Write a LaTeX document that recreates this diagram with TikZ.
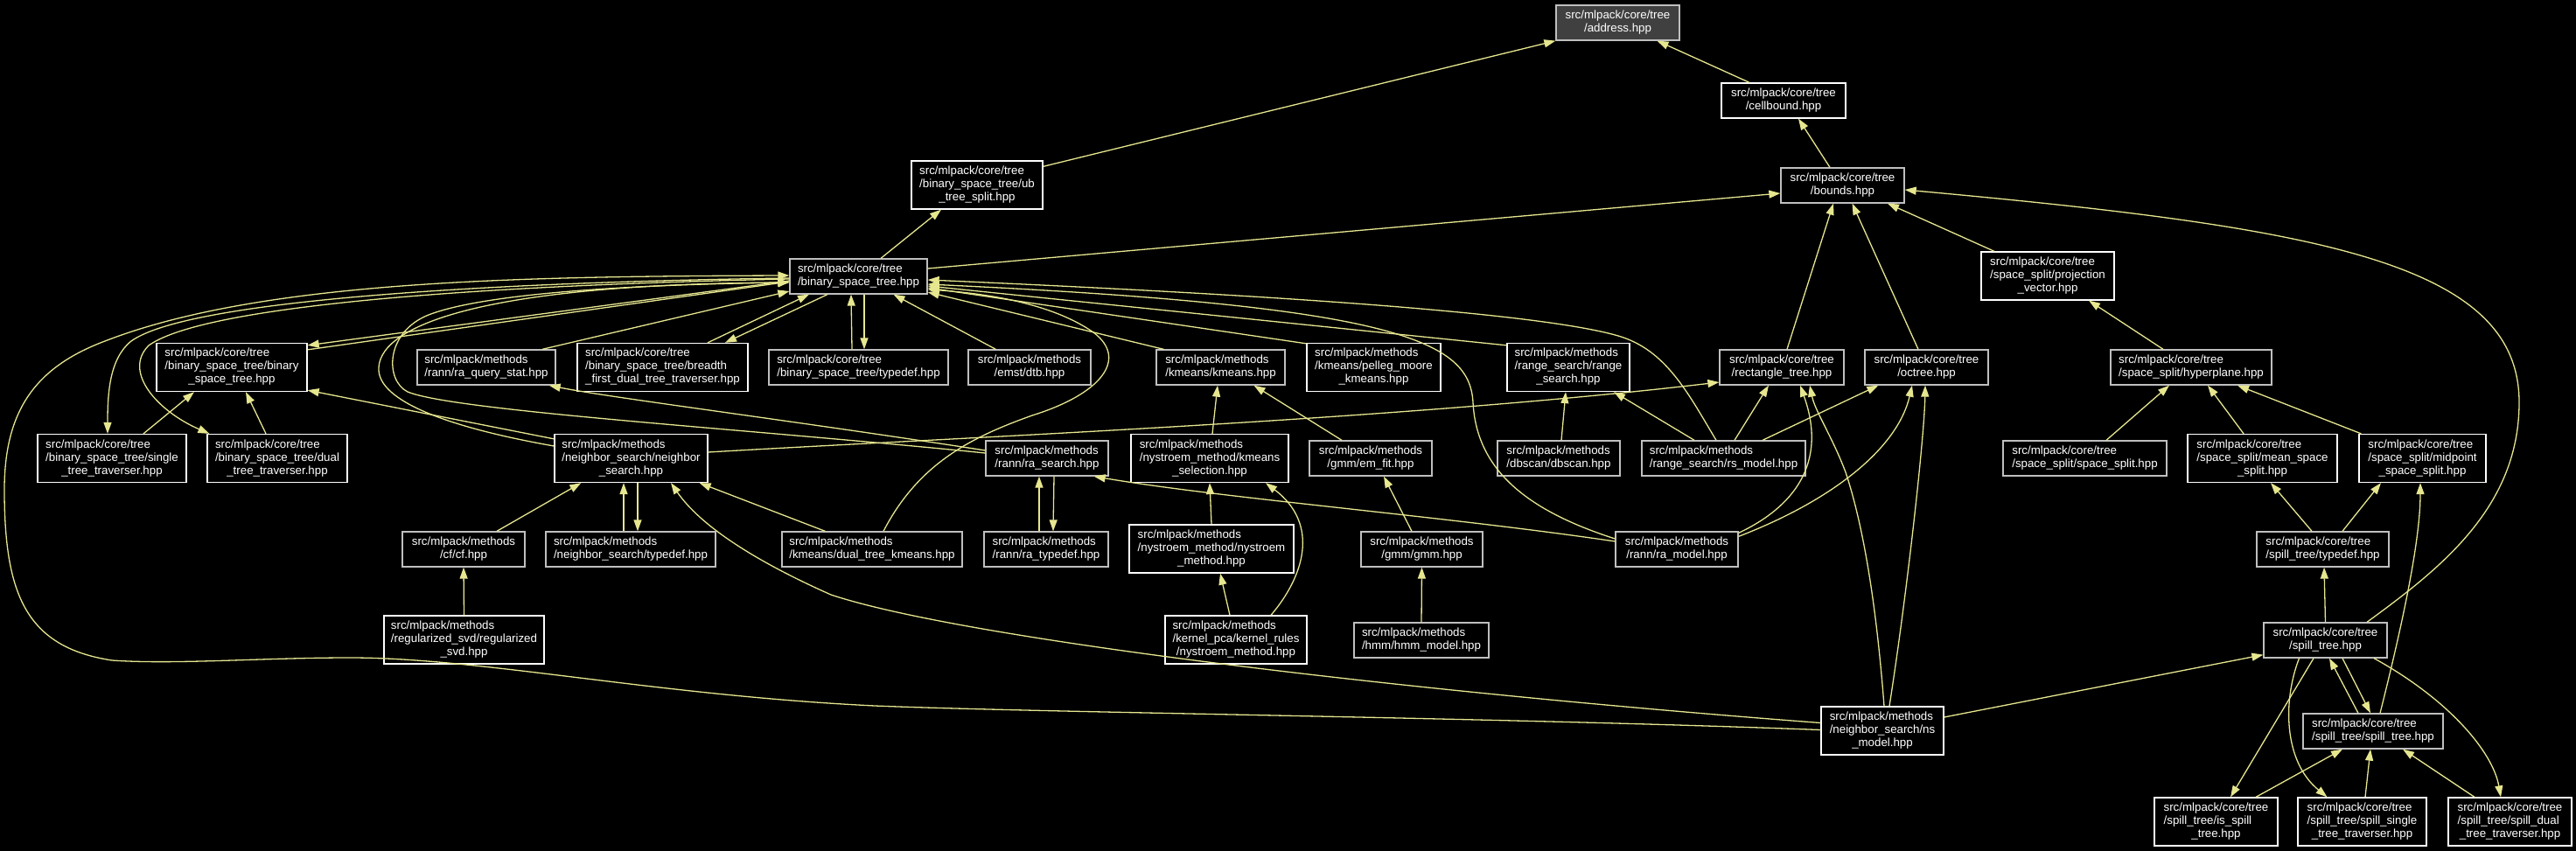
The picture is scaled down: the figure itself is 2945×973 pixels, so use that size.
\documentclass[tikz,border=0pt]{standalone}
\usepackage{fontspec}
\setmainfont{Liberation Sans}
\usetikzlibrary{arrows.meta}
\definecolor{grayb}{RGB}{191,191,191}
\definecolor{edgec}{RGB}{230,230,143}
\definecolor{addrfill}{RGB}{64,64,64}
\newcommand{\ltwo}[2]{\begin{tabular}{@{}l@{}}#1\\\multicolumn{1}{@{}c@{}}{#2}\end{tabular}}
\newcommand{\lthree}[3]{\begin{tabular}{@{}l@{}}#1\\#2\\\multicolumn{1}{@{}c@{}}{#3}\end{tabular}}
\tikzset{
  nd/.style={draw=white, fill=black, text=white, line width=1.3pt, inner sep=0pt,
    font=\fontsize{13.3}{15}\selectfont, minimum height=40pt},
  nd3/.style={nd, minimum height=55pt},
  gr/.style={nd, draw=grayb},
  gr3/.style={nd3, draw=grayb},
  addr/.style={nd, draw=grayb, fill=addrfill},
  arr/.style={draw=edgec, line width=1.3pt, -{Triangle[length=13pt,width=9pt]}}
}
\begin{document}
\begin{tikzpicture}[x=1pt,y=-1pt]
\fill[black] (0,0) rectangle (2945,973);
\useasboundingbox (0,0) rectangle (2945,973);
% nodes
\node[addr, minimum width=141pt] (address) at (1849.5,26) {\ltwo{src/mlpack/core/tree}{/address.hpp}};
\node[nd, minimum width=142pt] (cellbound) at (2039,115) {\ltwo{src/mlpack/core/tree}{/cellbound.hpp}};
\node[nd3, minimum width=150pt] (ub) at (1117,211.5) {\lthree{src/mlpack/core/tree}{/binary\_space\_tree/ub}{\_tree\_split.hpp}};
\node[gr, minimum width=141pt] (bounds) at (2106.5,212) {\ltwo{src/mlpack/core/tree}{/bounds.hpp}};
\node[gr, minimum width=157pt] (bst) at (981.5,316) {\ltwo{src/mlpack/core/tree}{/binary\_space\_tree.hpp}};
\node[nd3, minimum width=152pt] (proj) at (2341,315.5) {\lthree{src/mlpack/core/tree}{/space\_split/projection}{\_vector.hpp}};
\node[nd3, minimum width=172pt] (bstb) at (265,420) {\lthree{src/mlpack/core/tree}{/binary\_space\_tree/binary}{\_space\_tree.hpp}};
\node[gr, minimum width=158pt] (raqs) at (556,420) {\ltwo{src/mlpack/methods}{/rann/ra\_query\_stat.hpp}};
\node[nd3, minimum width=195pt] (breadth) at (757.5,420) {\lthree{src/mlpack/core/tree}{/binary\_space\_tree/breadth}{\_first\_dual\_tree\_traverser.hpp}};
\node[gr, minimum width=205pt] (bsttd) at (981.5,420) {\ltwo{src/mlpack/core/tree}{/binary\_space\_tree/typedef.hpp}};
\node[gr, minimum width=140pt] (dtb) at (1177,420) {\ltwo{src/mlpack/methods}{/emst/dtb.hpp}};
\node[gr, minimum width=147pt] (kmeans) at (1395.5,420) {\ltwo{src/mlpack/methods}{/kmeans/kmeans.hpp}};
\node[nd3, minimum width=153pt] (pelleg) at (1570.5,420) {\lthree{src/mlpack/methods}{/kmeans/pelleg\_moore}{\_kmeans.hpp}};
\node[nd3, minimum width=140pt] (range) at (1793,420) {\lthree{src/mlpack/methods}{/range\_search/range}{\_search.hpp}};
\node[gr, minimum width=142pt] (rect) at (2037,420) {\ltwo{src/mlpack/core/tree}{/rectangle\_tree.hpp}};
\node[gr, minimum width=141pt] (octree) at (2202.5,420) {\ltwo{src/mlpack/core/tree}{/octree.hpp}};
\node[gr, minimum width=184pt] (hyper) at (2505,420) {\ltwo{src/mlpack/core/tree}{/space\_split/hyperplane.hpp}};
\node[nd3, minimum width=170pt] (single) at (128,524) {\lthree{src/mlpack/core/tree}{/binary\_space\_tree/single}{\_tree\_traverser.hpp}};
\node[nd3, minimum width=160pt] (dual) at (317,524) {\lthree{src/mlpack/core/tree}{/binary\_space\_tree/dual}{\_tree\_traverser.hpp}};
\node[nd3, minimum width=175pt] (ns) at (721.5,524) {\lthree{src/mlpack/methods}{/neighbor\_search/neighbor}{\_search.hpp}};
\node[gr, minimum width=140pt] (rasearch) at (1197,524) {\ltwo{src/mlpack/methods}{/rann/ra\_search.hpp}};
\node[nd3, minimum width=180pt] (kmsel) at (1383,524) {\lthree{src/mlpack/methods}{/nystroem\_method/kmeans}{\_selection.hpp}};
\node[gr, minimum width=140pt] (emfit) at (1567,524) {\ltwo{src/mlpack/methods}{/gmm/em\_fit.hpp}};
\node[gr, minimum width=140pt] (dbscan) at (1782,524) {\ltwo{src/mlpack/methods}{/dbscan/dbscan.hpp}};
\node[gr, minimum width=187pt] (rsmodel) at (1970.5,524) {\ltwo{src/mlpack/methods}{/range\_search/rs\_model.hpp}};
\node[gr, minimum width=187pt] (ssplit) at (2383.5,524) {\ltwo{src/mlpack/core/tree}{/space\_split/space\_split.hpp}};
\node[nd3, minimum width=171pt] (mean) at (2586.5,524) {\lthree{src/mlpack/core/tree}{/space\_split/mean\_space}{\_split.hpp}};
\node[nd3, minimum width=145pt] (midpoint) at (2769.5,524) {\lthree{src/mlpack/core/tree}{/space\_split/midpoint}{\_space\_split.hpp}};
\node[gr, minimum width=140pt] (cf) at (530,628) {\ltwo{src/mlpack/methods}{/cf/cf.hpp}};
\node[gr, minimum width=194pt] (nstd) at (721,628) {\ltwo{src/mlpack/methods}{/neighbor\_search/typedef.hpp}};
\node[gr, minimum width=206pt] (dtk) at (997,628) {\ltwo{src/mlpack/methods}{/kmeans/dual\_tree\_kmeans.hpp}};
\node[gr, minimum width=142pt] (ratd) at (1196,628) {\ltwo{src/mlpack/methods}{/rann/ra\_typedef.hpp}};
\node[nd3, minimum width=188pt] (nysm) at (1385,627.5) {\lthree{src/mlpack/methods}{/nystroem\_method/nystroem}{\_method.hpp}};
\node[gr, minimum width=139pt] (gmm) at (1625.5,628) {\ltwo{src/mlpack/methods}{/gmm/gmm.hpp}};
\node[gr, minimum width=140pt] (ramodel) at (1917,628) {\ltwo{src/mlpack/methods}{/rann/ra\_model.hpp}};
\node[gr, minimum width=151pt] (spilltd) at (2655.5,628) {\ltwo{src/mlpack/core/tree}{/spill\_tree/typedef.hpp}};
\node[nd3, minimum width=183pt] (rsvd) at (530.5,731.5) {\lthree{src/mlpack/methods}{/regularized\_svd/regularized}{\_svd.hpp}};
\node[nd3, minimum width=162pt] (krules) at (1413,731.5) {\lthree{src/mlpack/methods}{/kernel\_pca/kernel\_rules}{/nystroem\_method.hpp}};
\node[gr, minimum width=154pt] (hmm) at (1625,732) {\ltwo{src/mlpack/methods}{/hmm/hmm\_model.hpp}};
\node[gr, minimum width=141pt] (spill) at (2658.5,732) {\ltwo{src/mlpack/core/tree}{/spill\_tree.hpp}};
\node[nd3, minimum width=140pt] (nsmodel) at (2152,835.5) {\lthree{src/mlpack/methods}{/neighbor\_search/ns}{\_model.hpp}};
\node[gr, minimum width=160pt] (spsp) at (2713,836) {\ltwo{src/mlpack/core/tree}{/spill\_tree/spill\_tree.hpp}};
\node[nd3, minimum width=141pt] (isspill) at (2533.5,939.5) {\lthree{src/mlpack/core/tree}{/spill\_tree/is\_spill}{\_tree.hpp}};
\node[nd3, minimum width=147pt] (spsingle) at (2700.5,939.5) {\lthree{src/mlpack/core/tree}{/spill\_tree/spill\_single}{\_tree\_traverser.hpp}};
\node[nd3, minimum width=141pt] (spdual) at (2869.5,939.5) {\lthree{src/mlpack/core/tree}{/spill\_tree/spill\_dual}{\_tree\_traverser.hpp}};
% edges
\draw[arr] ([yshift=-7pt]ub.north east) -- (address.south west);
\draw[arr] ([xshift=-39pt]cellbound.north) -- ([xshift=45pt]address.south);
\draw[arr] ([xshift=-14.5pt]bounds.north) -- ([xshift=17pt]cellbound.south);
\draw[arr] ([xshift=25.5pt]bst.north) -- ([xshift=-41pt]ub.south);
\draw[arr] ([yshift=9pt]bst.east) -- ([yshift=-9pt]bounds.west);
\draw[arr] ([xshift=6pt]rect.north) -- ([xshift=-10.5pt]bounds.south);
\draw[arr] ([xshift=-9.5pt]octree.north) -- ([xshift=11pt]bounds.south);
\draw[arr] ([xshift=-61pt]proj.north) -- ([xshift=51.5pt]bounds.south);
\draw[arr] ([xshift=47.5pt]spill.north) .. controls (2790,650) and (2880,580) .. (2880,460) .. controls (2880,300) and (2650,260) .. ([yshift=-5pt]bounds.east);
\draw[arr] ([xshift=-32pt]hyper.north) -- ([xshift=47pt]proj.south);
\draw[arr] ([xshift=24.5pt]ssplit.north) -- ([xshift=-25pt]hyper.south);
\draw[arr] ([xshift=-21.5pt]mean.north) -- ([xshift=19pt]hyper.south);
\draw[arr] ([xshift=3pt]midpoint.north west) -- ([xshift=53pt]hyper.south);
\draw[arr] ([xshift=-12.5pt]spilltd.north) -- ([xshift=9.5pt]mean.south);
\draw[arr] ([xshift=22.5pt]spilltd.north) -- ([xshift=-47.5pt]midpoint.south);
\draw[arr] ([xshift=8pt]spsp.north) .. controls (2745,720) and (2767,620) .. ([xshift=-2.5pt]midpoint.south);
\draw[arr] (spill.north) -- ([xshift=1.5pt]spilltd.south);
\draw[arr] ([yshift=15.5pt]nsmodel.east) -- ([yshift=4pt]spill.south west);
\draw[arr] ([xshift=-13.5pt]spill.south) -- ([xshift=16.5pt]isspill.north);
\draw[arr] ([xshift=-30pt]spill.south) .. controls (2610,800) and (2610,870) .. ([xshift=-40pt]spsingle.north);
\draw[arr] ([xshift=55.5pt]spill.south) .. controls (2800,800) and (2850,860) .. ([xshift=-10.5pt]spdual.north);
\draw[arr] ([xshift=19.5pt]spill.south) -- ([xshift=-3pt]spsp.north);
\draw[arr] ([xshift=-17pt]spsp.north) -- ([xshift=4.5pt]spill.south);
\draw[arr] ([xshift=45.5pt]isspill.north) -- ([xshift=-35pt]spsp.south);
\draw[arr] ([xshift=3.5pt]spsingle.north) -- ([xshift=-3pt]spsp.south);
\draw[arr] ([xshift=-40.5pt]spdual.north) -- ([xshift=34pt]spsp.south);
\draw[arr] ([xshift=2pt]nsmodel.north) .. controls (2145,690) and (2130,600) .. (2110,540) .. controls (2095,500) and (2075,470) .. ([xshift=32pt]rect.south);
\draw[arr] ([xshift=8pt]nsmodel.north) .. controls (2180,680) and (2200,500) .. ([xshift=-1.5pt]octree.south);
\draw[arr] ([xshift=12.5pt]rsmodel.north) -- ([xshift=-15pt]rect.south);
\draw[arr] ([xshift=44.5pt]rsmodel.north) -- ([xshift=16pt]octree.south west);
\draw[arr] ([xshift=-33.5pt]rsmodel.north) -- ([xshift=52pt]range.south);
\draw[arr] ([xshift=3pt]dbscan.north) -- ([xshift=-3pt]range.south);
\draw[arr] ([xshift=-8.5pt]rsmodel.north) .. controls (1930,450) and (1905,400) .. (1850,384) .. controls (1750,355) and (1400,335) .. ([yshift=-4pt]bst.east);
\draw[arr] ([yshift=-2pt]ramodel.north east) .. controls (2050,580) and (2090,530) .. ([xshift=21pt]rect.south);
\draw[arr] ([yshift=-6pt]ramodel.north east) .. controls (2100,570) and (2170,510) .. ([xshift=-16.5pt]octree.south);
\draw[arr] ([yshift=12pt]ramodel.west) .. controls (1750,585) and (1688,540) .. (1684,460) .. controls (1680,390) and (1600,350) .. ([yshift=-9pt]bst.east);
\draw[arr] ([yshift=-3pt]range.north west) -- ([yshift=-11pt]bst.east);
\draw[arr] ([yshift=-1pt]pelleg.north west) -- ([yshift=-13pt]bst.east);
\draw[arr] ([xshift=9pt]kmeans.north west) -- ([yshift=-18pt]bst.east);
\draw[arr] ([xshift=13pt]dtk.north) .. controls (1050,530) and (1110,500) .. (1180,475) .. controls (1260,450) and (1290,410) .. (1250,380) .. controls (1200,345) and (1120,335) .. ([yshift=-15pt]bst.east);
\draw[arr] ([xshift=50pt]dtk.north west) -- ([xshift=-10pt]ns.south east);
\draw[arr] ([xshift=32pt]dtb.north west) -- ([xshift=40pt]bst.south);
\draw[arr] ([xshift=-7.5pt]bsttd.north) -- ([xshift=-8.5pt]bst.south);
\draw[arr] ([xshift=6.5pt]bst.south) -- ([xshift=6.5pt]bsttd.north);
\draw[arr] ([xshift=51.5pt]breadth.north) -- ([xshift=-56.5pt]bst.south);
\draw[arr] ([xshift=-35.5pt]bst.south) -- ([xshift=71.5pt]breadth.north);
\draw[arr] ([xshift=64pt]raqs.north) -- ([yshift=-17pt]bst.west);
\draw[arr] ([yshift=-5pt]bst.west) -- ([yshift=-3pt]bstb.north east);
\draw[arr] ([yshift=-8pt]bstb.north east) -- ([yshift=-6pt]bst.west);
\draw[arr] ([yshift=1pt]nsmodel.west) .. controls (1700,820) and (1200,815) .. (1000,807) .. controls (750,795) and (550,752) .. (400,752) .. controls (300,752) and (200,760) .. (128,755) .. controls (30,740) and (5,680) .. (5,560) .. controls (5,470) and (40,420) .. (120,390) .. controls (300,320) and (600,316) .. ([yshift=1pt]bst.west);
\draw[arr] ([yshift=-2pt]bst.west) .. controls (600,322) and (220,340) .. (150,390) .. controls (125,410) and (123,450) .. ([xshift=-5pt]single.north);
\draw[arr] ([yshift=-3pt]bst.west) .. controls (600,325) and (240,345) .. (170,395) .. controls (140,425) and (180,470) .. ([xshift=3pt]dual.north west);
\draw[arr] ([xshift=36pt]single.north) -- ([xshift=-43pt]bstb.south);
\draw[arr] ([xshift=-13pt]dual.north) -- ([xshift=16pt]bstb.south);
\draw[arr] ([yshift=-6pt]ns.north west) -- ([yshift=2pt]bstb.south east);
\draw[arr] ([yshift=14pt]ns.west) .. controls (520,490) and (430,460) .. (433,420) .. controls (436,370) and (560,325) .. ([yshift=-7pt]bst.west);
\draw[arr] ([yshift=6pt]rasearch.west) .. controls (850,490) and (520,470) .. (466,448) .. controls (440,435) and (440,380) .. (490,360) .. controls (560,333) and (750,325) .. ([yshift=-7pt]bst.west);
\draw[arr] ([yshift=9pt]rasearch.west) .. controls (900,480) and (700,455) .. ([xshift=-8pt]raqs.south east);
\draw[arr] ([yshift=7pt]ns.east) .. controls (1100,500) and (1600,480) .. ([yshift=-17pt]rect.west);
\draw[arr] ([xshift=38pt]cf.north) -- ([xshift=31pt]ns.south west);
\draw[arr] ([xshift=-8pt]nstd.north) -- ([xshift=-8.5pt]ns.south);
\draw[arr] ([xshift=7.5pt]ns.south) -- ([xshift=8pt]nstd.north);
\draw[arr] ([yshift=9pt]nsmodel.west) .. controls (1600,790) and (1100,730) .. (950,680) .. controls (860,640) and (800,600) .. ([xshift=45.5pt]ns.south);
\draw[arr] ([xshift=-8pt]ratd.north) -- ([xshift=-9pt]rasearch.south);
\draw[arr] ([xshift=8pt]rasearch.south) -- ([xshift=8pt]ratd.north);
\draw[arr] ([yshift=9pt]ramodel.west) .. controls (1650,590) and (1400,570) .. ([xshift=-17pt]rasearch.south east);
\draw[arr] ([xshift=3pt]kmsel.north) -- ([xshift=-3.5pt]kmeans.south);
\draw[arr] ([xshift=-33pt]emfit.north) -- ([xshift=38pt]kmeans.south);
\draw[arr] (nysm.north) -- (kmsel.south);
\draw[arr] ([xshift=-7pt]krules.north) -- ([xshift=10pt]nysm.south);
\draw[arr] ([xshift=40pt]krules.north) .. controls (1490,660) and (1510,600) .. ([xshift=64pt]kmsel.south);
\draw[arr] ([xshift=-11.5pt]gmm.north) -- ([xshift=15pt]emfit.south);
\draw[arr] (hmm.north) -- (gmm.south);
\draw[arr] (rsvd.north) -- (cf.south);
\end{tikzpicture}
\end{document}
